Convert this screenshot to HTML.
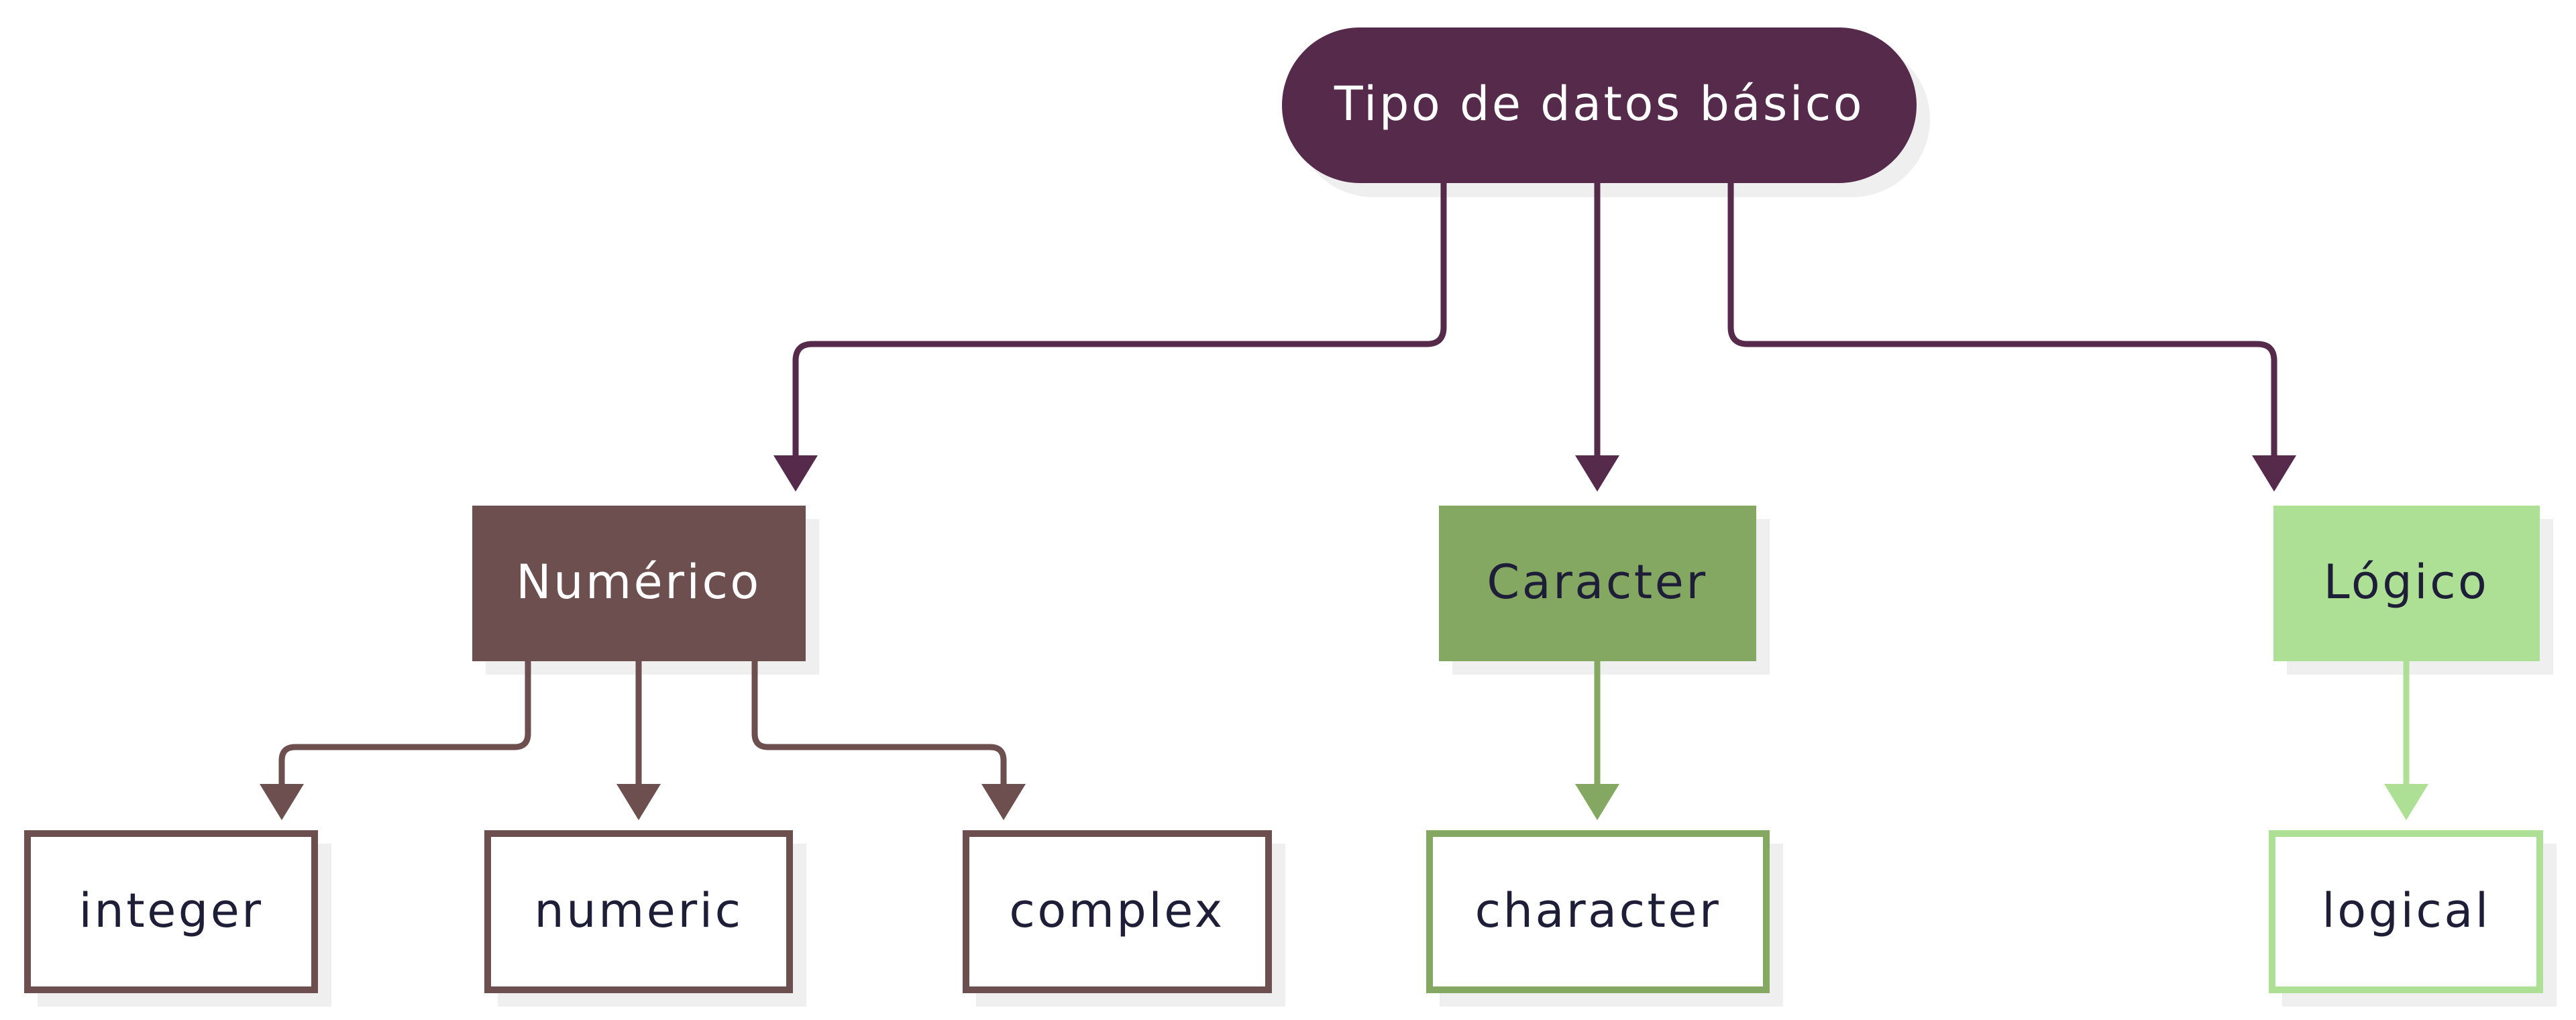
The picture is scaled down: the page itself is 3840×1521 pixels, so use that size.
<!DOCTYPE html>
<html><head><meta charset="utf-8"><style>
html,body{margin:0;padding:0;background:#fff;}
svg{display:block;}
text{font-family:"DejaVu Sans","Liberation Sans",sans-serif;font-size:70px;letter-spacing:3.5px;text-anchor:middle;dominant-baseline:central;}
</style></head><body>
<svg width="3840" height="1521" viewBox="0 0 3840 1521" xmlns="http://www.w3.org/2000/svg">
<g fill="#efefef">
<rect x="1931" y="62" width="946" height="232" rx="116"/>
<rect x="724" y="774" width="497" height="232"/>
<rect x="2165" y="774" width="473" height="232"/>
<rect x="3409" y="774" width="397" height="232"/>
<rect x="56" y="1258" width="438" height="243"/>
<rect x="742" y="1258" width="460" height="243"/>
<rect x="1455" y="1258" width="461" height="243"/>
<rect x="2146" y="1258" width="512" height="243"/>
<rect x="3402" y="1258" width="409" height="243"/>
</g>
<g fill="none" stroke-width="9">
<path d="M2152 272 V488 Q2152 513 2127 513 H1211 Q1186 513 1186 538 V690" stroke="#552a4a"/>
<path d="M2381 272 V690" stroke="#552a4a"/>
<path d="M2580 272 V488 Q2580 513 2605 513 H3365 Q3390 513 3390 538 V690" stroke="#552a4a"/>
<path d="M787 985 V1094 Q787 1114 767 1114 H440 Q420 1114 420 1134 V1180" stroke="#6d4f4f"/>
<path d="M952 985 V1180" stroke="#6d4f4f"/>
<path d="M1125 985 V1094 Q1125 1114 1145 1114 H1476 Q1496 1114 1496 1134 V1180" stroke="#6d4f4f"/>
<path d="M2381 985 V1180" stroke="#84a862"/>
<path d="M3587 985 V1180" stroke="#ade094"/>
</g>
<g>
<polygon points="1153,679 1219,679 1186,733" fill="#552a4a"/>
<polygon points="2348,679 2414,679 2381,733" fill="#552a4a"/>
<polygon points="3357,679 3423,679 3390,733" fill="#552a4a"/>
<polygon points="387,1169 453,1169 420,1223" fill="#6d4f4f"/>
<polygon points="919,1169 985,1169 952,1223" fill="#6d4f4f"/>
<polygon points="1463,1169 1529,1169 1496,1223" fill="#6d4f4f"/>
<polygon points="2348,1169 2414,1169 2381,1223" fill="#84a862"/>
<polygon points="3554,1169 3620,1169 3587,1223" fill="#ade094"/>
</g>
<rect x="1911" y="41" width="946" height="232" rx="116" fill="#552a4a"/>
<text x="2384" y="155" fill="#fff" font-size="74" letter-spacing="2.5">Tipo de datos básico</text>
<rect x="704" y="754" width="497" height="232" fill="#6d4f4f"/>
<text x="952" y="868" fill="#fff">Numérico</text>
<rect x="2145" y="754" width="473" height="232" fill="#84a862"/>
<text x="2381" y="868" fill="#1e1e38">Caracter</text>
<rect x="3389" y="754" width="397" height="232" fill="#ade094"/>
<text x="3587" y="868" fill="#1e1e38">Lógico</text>
<g fill="#fff" stroke-width="10">
<rect x="41" y="1243" width="428" height="233" stroke="#6d4f4f"/>
<rect x="727" y="1243" width="450" height="233" stroke="#6d4f4f"/>
<rect x="1440" y="1243" width="451" height="233" stroke="#6d4f4f"/>
<rect x="2131" y="1243" width="502" height="233" stroke="#84a862"/>
<rect x="3387" y="1243" width="399" height="233" stroke="#ade094"/>
</g>
<g fill="#1e1e38">
<text x="255" y="1358">integer</text>
<text x="952" y="1358">numeric</text>
<text x="1665" y="1358">complex</text>
<text x="2382" y="1358">character</text>
<text x="3587" y="1358">logical</text>
</g>
</svg>
</body></html>
